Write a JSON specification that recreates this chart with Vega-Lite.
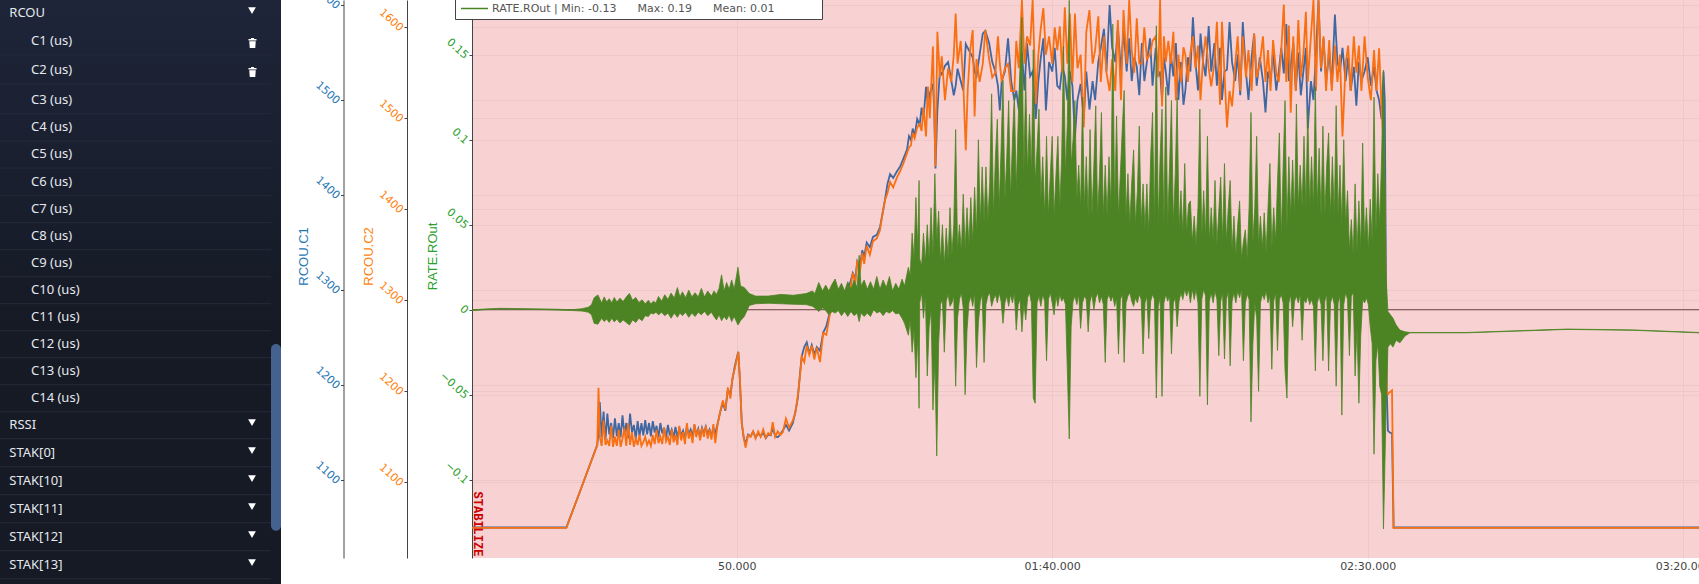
{"$schema":"https://vega.github.io/schema/vega-lite/v6.json","width":1227,"height":558,"autosize":{"type":"none","contains":"content"},"padding":{"left":472,"top":0,"right":0,"bottom":26},"background":"white","view":{"fill":"#f8d1d2","stroke":null},
"datasets":{
"menu":[{"row":0,"label":"RCOU","kind":"group"},{"row":1,"label":"C1 (us)","kind":"item","trash":1},{"row":2,"label":"C2 (us)","kind":"item","trash":1},{"row":3,"label":"C3 (us)","kind":"item"},{"row":4,"label":"C4 (us)","kind":"item"},{"row":5,"label":"C5 (us)","kind":"item"},{"row":6,"label":"C6 (us)","kind":"item"},{"row":7,"label":"C7 (us)","kind":"item"},{"row":8,"label":"C8 (us)","kind":"item"},{"row":9,"label":"C9 (us)","kind":"item"},{"row":10,"label":"C10 (us)","kind":"item"},{"row":11,"label":"C11 (us)","kind":"item"},{"row":12,"label":"C12 (us)","kind":"item"},{"row":13,"label":"C13 (us)","kind":"item"},{"row":14,"label":"C14 (us)","kind":"item"},{"row":15,"label":"RSSI","kind":"group"},{"row":16,"label":"STAK[0]","kind":"group"},{"row":17,"label":"STAK[10]","kind":"group"},{"row":18,"label":"STAK[11]","kind":"group"},{"row":19,"label":"STAK[12]","kind":"group"},{"row":20,"label":"STAK[13]","kind":"group"}],
"rcou":[{"t":8.05,"c1":1050,"c2":1050},{"t":23,"c1":1050,"c2":1050},{"t":25,"c1":1085,"c2":1087},{"t":27.9,"c1":1137,"c2":1141},{"t":28.1,"c1":1150,"c2":1204},{"t":28.3,"c1":1182,"c2":1150},{"t":28.6,"c1":1145,"c2":1140},{"t":28.9,"c1":1172,"c2":1168},{"t":29.2,"c1":1142,"c2":1141},{"t":29.5,"c1":1170,"c2":1146},{"t":29.8,"c1":1148,"c2":1140},{"t":30.1,"c1":1160,"c2":1162},{"t":30.4,"c1":1144,"c2":1139},{"t":30.7,"c1":1165,"c2":1150},{"t":31,"c1":1146,"c2":1140},{"t":31.3,"c1":1160,"c2":1158},{"t":31.6,"c1":1145,"c2":1139},{"t":31.9,"c1":1168,"c2":1148},{"t":32.2,"c1":1148,"c2":1160},{"t":32.5,"c1":1160,"c2":1140},{"t":32.8,"c1":1144,"c2":1165},{"t":33.1,"c1":1170,"c2":1141},{"t":33.4,"c1":1150,"c2":1155},{"t":33.7,"c1":1158,"c2":1139},{"t":34,"c1":1143,"c2":1148},{"t":34.3,"c1":1162,"c2":1141},{"t":34.6,"c1":1146,"c2":1152},{"t":34.9,"c1":1160,"c2":1140},{"t":35.2,"c1":1147,"c2":1144},{"t":35.5,"c1":1163,"c2":1150},{"t":35.8,"c1":1148,"c2":1141},{"t":36.1,"c1":1160,"c2":1146},{"t":36.4,"c1":1146,"c2":1140},{"t":36.7,"c1":1162,"c2":1152},{"t":37,"c1":1150,"c2":1142},{"t":37.3,"c1":1157,"c2":1158},{"t":37.6,"c1":1145,"c2":1143},{"t":37.9,"c1":1160,"c2":1150},{"t":38.2,"c1":1149,"c2":1142},{"t":38.5,"c1":1155,"c2":1160},{"t":38.8,"c1":1144,"c2":1145},{"t":39.1,"c1":1158,"c2":1150},{"t":39.4,"c1":1147,"c2":1141},{"t":39.7,"c1":1153,"c2":1158},{"t":40,"c1":1145,"c2":1144},{"t":40.3,"c1":1156,"c2":1152},{"t":40.6,"c1":1144,"c2":1141},{"t":40.9,"c1":1155,"c2":1162},{"t":41.2,"c1":1147,"c2":1146},{"t":41.5,"c1":1152,"c2":1155},{"t":41.8,"c1":1144,"c2":1142},{"t":42.1,"c1":1156,"c2":1165},{"t":42.4,"c1":1148,"c2":1148},{"t":42.7,"c1":1153,"c2":1156},{"t":43,"c1":1146,"c2":1143},{"t":43.3,"c1":1158,"c2":1164},{"t":43.6,"c1":1148,"c2":1150},{"t":43.9,"c1":1154,"c2":1159},{"t":44.2,"c1":1145,"c2":1146},{"t":44.5,"c1":1155,"c2":1160},{"t":44.8,"c1":1149,"c2":1150},{"t":45.1,"c1":1156,"c2":1162},{"t":45.4,"c1":1148,"c2":1148},{"t":45.7,"c1":1153,"c2":1158},{"t":46,"c1":1146,"c2":1147},{"t":46.3,"c1":1155,"c2":1164},{"t":46.6,"c1":1149,"c2":1143},{"t":47,"c1":1160,"c2":1165},{"t":47.4,"c1":1172,"c2":1178},{"t":47.8,"c1":1181,"c2":1190},{"t":48.2,"c1":1173,"c2":1180},{"t":48.6,"c1":1195,"c2":1204},{"t":49,"c1":1190,"c2":1192},{"t":49.3,"c1":1205,"c2":1214},{"t":49.7,"c1":1220,"c2":1225},{"t":50.25,"c1":1235,"c2":1243},{"t":50.5,"c1":1205,"c2":1215},{"t":50.8,"c1":1160,"c2":1165},{"t":51.1,"c1":1145,"c2":1150},{"t":51.4,"c1":1138,"c2":1138},{"t":51.8,"c1":1148,"c2":1152},{"t":52.2,"c1":1146,"c2":1150},{"t":52.6,"c1":1151,"c2":1156},{"t":53,"c1":1145,"c2":1148},{"t":53.4,"c1":1149,"c2":1156},{"t":53.8,"c1":1146,"c2":1150},{"t":54.2,"c1":1150,"c2":1158},{"t":54.6,"c1":1144,"c2":1149},{"t":55,"c1":1148,"c2":1154},{"t":55.4,"c1":1147,"c2":1152},{"t":55.7,"c1":1155,"c2":1166},{"t":56.1,"c1":1146,"c2":1150},{"t":56.5,"c1":1145,"c2":1156},{"t":56.9,"c1":1148,"c2":1152},{"t":57.3,"c1":1152,"c2":1155},{"t":57.8,"c1":1158,"c2":1170},{"t":58.3,"c1":1152,"c2":1160},{"t":58.9,"c1":1160,"c2":1168},{"t":59.3,"c1":1172,"c2":1176},{"t":59.7,"c1":1187,"c2":1196},{"t":60,"c1":1210,"c2":1215},{"t":60.3,"c1":1230,"c2":1238},{"t":60.7,"c1":1240,"c2":1232},{"t":61.1,"c1":1245,"c2":1250},{"t":61.5,"c1":1233,"c2":1240},{"t":61.9,"c1":1242,"c2":1250},{"t":62.3,"c1":1232,"c2":1235},{"t":62.7,"c1":1240,"c2":1248},{"t":63.2,"c1":1236,"c2":1232},{"t":63.7,"c1":1255,"c2":1264},{"t":64.2,"c1":1262,"c2":1262},{"t":64.8,"c1":1278,"c2":1286},{"t":65.6,"c1":1284,"c2":1293},{"t":66.2,"c1":1292,"c2":1300},{"t":66.7,"c1":1295,"c2":1306},{"t":67.5,"c1":1300,"c2":1304},{"t":68,"c1":1308,"c2":1312},{"t":68.4,"c1":1318,"c2":1330},{"t":68.8,"c1":1312,"c2":1318},{"t":69.1,"c1":1330,"c2":1344},{"t":69.5,"c1":1324,"c2":1330},{"t":69.9,"c1":1342,"c2":1352},{"t":70.2,"c1":1335,"c2":1340},{"t":70.6,"c1":1350,"c2":1360},{"t":71.1,"c1":1345,"c2":1350},{"t":71.6,"c1":1356,"c2":1365},{"t":72.2,"c1":1358,"c2":1368},{"t":72.7,"c1":1366,"c2":1377},{"t":73.1,"c1":1380,"c2":1395},{"t":73.5,"c1":1395,"c2":1410},{"t":73.9,"c1":1412,"c2":1418},{"t":74.3,"c1":1422,"c2":1430},{"t":74.8,"c1":1418,"c2":1424},{"t":75.4,"c1":1425,"c2":1435},{"t":75.9,"c1":1430,"c2":1442},{"t":76.4,"c1":1438,"c2":1450},{"t":77,"c1":1448,"c2":1462},{"t":77.3,"c1":1462,"c2":1468},{"t":77.6,"c1":1458,"c2":1470},{"t":77.9,"c1":1470,"c2":1484},{"t":78.2,"c1":1462,"c2":1478},{"t":78.6,"c1":1480,"c2":1490},{"t":79,"c1":1474,"c2":1494},{"t":79.3,"c1":1492,"c2":1486},{"t":79.6,"c1":1480,"c2":1512},{"t":80,"c1":1514,"c2":1480},{"t":80.3,"c1":1495,"c2":1535},{"t":80.6,"c1":1507,"c2":1500},{"t":81.1,"c1":1517,"c2":1579},{"t":81.3,"c1":1490,"c2":1510},{"t":81.5,"c1":1428,"c2":1447},{"t":81.8,"c1":1489,"c2":1595},{"t":82.2,"c1":1530,"c2":1545},{"t":82.5,"c1":1527,"c2":1568},{"t":83,"c1":1536,"c2":1520},{"t":83.5,"c1":1540,"c2":1555},{"t":84,"c1":1521,"c2":1540},{"t":84.4,"c1":1505,"c2":1570},{"t":84.7,"c1":1515,"c2":1615},{"t":85,"c1":1533,"c2":1560},{"t":85.5,"c1":1520,"c2":1585},{"t":85.9,"c1":1510,"c2":1540},{"t":86.3,"c1":1559,"c2":1465},{"t":86.6,"c1":1555,"c2":1530},{"t":87,"c1":1550,"c2":1575},{"t":87.4,"c1":1545,"c2":1597},{"t":87.7,"c1":1530,"c2":1502},{"t":88,"c1":1525,"c2":1565},{"t":88.5,"c1":1548,"c2":1540},{"t":89,"c1":1570,"c2":1560},{"t":89.4,"c1":1573,"c2":1597},{"t":90,"c1":1560,"c2":1565},{"t":90.5,"c1":1540,"c2":1545},{"t":91,"c1":1530,"c2":1550},{"t":91.4,"c1":1515,"c2":1590},{"t":91.7,"c1":1489,"c2":1560},{"t":92,"c1":1520,"c2":1540},{"t":92.5,"c1":1530,"c2":1555},{"t":93,"c1":1565,"c2":1560},{"t":93.5,"c1":1520,"c2":1530},{"t":94,"c1":1500,"c2":1530},{"t":94.3,"c1":1510,"c2":1585},{"t":94.7,"c1":1490,"c2":1555},{"t":95.2,"c1":1550,"c2":1630},{"t":95.6,"c1":1510,"c2":1560},{"t":96,"c1":1560,"c2":1590},{"t":96.5,"c1":1525,"c2":1580},{"t":96.9,"c1":1530,"c2":1630},{"t":97.4,"c1":1480,"c2":1516},{"t":97.8,"c1":1520,"c2":1570},{"t":98.2,"c1":1545,"c2":1600},{"t":98.6,"c1":1565,"c2":1621},{"t":99,"c1":1489,"c2":1570},{"t":99.5,"c1":1540,"c2":1590},{"t":100,"c1":1530,"c2":1560},{"t":100.4,"c1":1555,"c2":1600},{"t":100.8,"c1":1515,"c2":1575},{"t":101.2,"c1":1512,"c2":1601},{"t":101.6,"c1":1535,"c2":1550},{"t":102,"c1":1525,"c2":1622},{"t":102.4,"c1":1500,"c2":1560},{"t":102.8,"c1":1530,"c2":1615},{"t":103.2,"c1":1515,"c2":1540},{"t":103.6,"c1":1461,"c2":1615},{"t":104,"c1":1500,"c2":1555},{"t":104.5,"c1":1517,"c2":1570},{"t":105,"c1":1480,"c2":1490},{"t":105.4,"c1":1530,"c2":1595},{"t":105.9,"c1":1490,"c2":1619},{"t":106.4,"c1":1520,"c2":1560},{"t":106.8,"c1":1500,"c2":1575},{"t":107.3,"c1":1540,"c2":1612},{"t":107.7,"c1":1555,"c2":1540},{"t":108.2,"c1":1575,"c2":1590},{"t":108.6,"c1":1530,"c2":1550},{"t":109.1,"c1":1600,"c2":1530},{"t":109.5,"c1":1555,"c2":1565},{"t":110,"c1":1540,"c2":1530},{"t":110.4,"c1":1577,"c2":1608},{"t":110.9,"c1":1530,"c2":1520},{"t":111.3,"c1":1575,"c2":1619},{"t":111.8,"c1":1530,"c2":1560},{"t":112.2,"c1":1565,"c2":1630},{"t":112.6,"c1":1520,"c2":1575},{"t":113,"c1":1545,"c2":1550},{"t":113.4,"c1":1535,"c2":1610},{"t":113.8,"c1":1505,"c2":1560},{"t":114.2,"c1":1560,"c2":1560},{"t":114.6,"c1":1520,"c2":1600},{"t":115,"c1":1540,"c2":1565},{"t":115.5,"c1":1565,"c2":1570},{"t":115.9,"c1":1515,"c2":1585},{"t":116.4,"c1":1555,"c2":1590},{"t":116.8,"c1":1525,"c2":1545},{"t":117.1,"c1":1530,"c2":1630},{"t":117.4,"c1":1500,"c2":1513},{"t":117.7,"c1":1545,"c2":1590},{"t":118,"c1":1530,"c2":1562},{"t":118.4,"c1":1505,"c2":1585},{"t":118.8,"c1":1548,"c2":1560},{"t":119.2,"c1":1525,"c2":1595},{"t":119.6,"c1":1560,"c2":1520},{"t":120,"c1":1500,"c2":1570},{"t":120.4,"c1":1540,"c2":1540},{"t":120.8,"c1":1495,"c2":1578},{"t":121.1,"c1":1510,"c2":1570},{"t":121.5,"c1":1545,"c2":1540},{"t":121.9,"c1":1530,"c2":1572},{"t":122.3,"c1":1587,"c2":1590},{"t":122.7,"c1":1540,"c2":1555},{"t":123.1,"c1":1510,"c2":1580},{"t":123.5,"c1":1570,"c2":1520},{"t":123.9,"c1":1540,"c2":1565},{"t":124.3,"c1":1525,"c2":1590},{"t":124.8,"c1":1578,"c2":1555},{"t":125.2,"c1":1530,"c2":1535},{"t":125.7,"c1":1560,"c2":1560},{"t":126.1,"c1":1515,"c2":1606},{"t":126.6,"c1":1555,"c2":1515},{"t":126.9,"c1":1500,"c2":1606},{"t":127.3,"c1":1530,"c2":1550},{"t":127.7,"c1":1532,"c2":1490},{"t":128.1,"c1":1582,"c2":1530},{"t":128.5,"c1":1540,"c2":1513},{"t":129,"c1":1520,"c2":1560},{"t":129.4,"c1":1548,"c2":1590},{"t":129.8,"c1":1505,"c2":1530},{"t":130.2,"c1":1582,"c2":1590},{"t":130.7,"c1":1530,"c2":1545},{"t":131.1,"c1":1500,"c2":1575},{"t":131.6,"c1":1545,"c2":1530},{"t":132,"c1":1570,"c2":1593},{"t":132.4,"c1":1515,"c2":1545},{"t":132.9,"c1":1545,"c2":1560},{"t":133.4,"c1":1520,"c2":1590},{"t":133.8,"c1":1487,"c2":1540},{"t":134.2,"c1":1530,"c2":1575},{"t":134.6,"c1":1520,"c2":1530},{"t":135,"c1":1550,"c2":1586},{"t":135.5,"c1":1510,"c2":1550},{"t":135.9,"c1":1530,"c2":1540},{"t":136.3,"c1":1555,"c2":1575},{"t":136.7,"c1":1528,"c2":1625},{"t":137.1,"c1":1580,"c2":1540},{"t":137.5,"c1":1520,"c2":1602},{"t":137.8,"c1":1535,"c2":1506},{"t":138.2,"c1":1560,"c2":1590},{"t":138.6,"c1":1510,"c2":1530},{"t":139,"c1":1550,"c2":1608},{"t":139.4,"c1":1505,"c2":1545},{"t":139.8,"c1":1530,"c2":1570},{"t":140.2,"c1":1555,"c2":1617},{"t":140.5,"c1":1470,"c2":1540},{"t":141,"c1":1520,"c2":1590},{"t":141.4,"c1":1500,"c2":1630},{"t":141.8,"c1":1550,"c2":1530},{"t":142.2,"c1":1605,"c2":1630},{"t":142.6,"c1":1530,"c2":1555},{"t":143,"c1":1565,"c2":1590},{"t":143.4,"c1":1520,"c2":1530},{"t":143.9,"c1":1550,"c2":1586},{"t":144.3,"c1":1515,"c2":1530},{"t":144.8,"c1":1590,"c2":1580},{"t":145.2,"c1":1540,"c2":1540},{"t":145.6,"c1":1530,"c2":1570},{"t":146,"c1":1555,"c2":1480},{"t":146.5,"c1":1520,"c2":1560},{"t":146.9,"c1":1545,"c2":1580},{"t":147.3,"c1":1510,"c2":1530},{"t":147.8,"c1":1535,"c2":1590},{"t":148.2,"c1":1494,"c2":1550},{"t":148.6,"c1":1540,"c2":1580},{"t":149,"c1":1520,"c2":1530},{"t":149.5,"c1":1530,"c2":1590},{"t":150,"c1":1545,"c2":1545},{"t":150.5,"c1":1515,"c2":1520},{"t":151,"c1":1535,"c2":1575},{"t":151.4,"c1":1510,"c2":1530},{"t":151.8,"c1":1500,"c2":1577},{"t":152.2,"c1":1480,"c2":1510},{"t":152.5,"c1":1530,"c2":1473},{"t":152.7,"c1":1500,"c2":1400},{"t":153,"c1":1200,"c2":1198},{"t":153.2,"c1":1152,"c2":1197},{"t":153.5,"c1":1150,"c2":1199},{"t":153.85,"c1":1149,"c2":1201},{"t":154.1,"c1":1050,"c2":1050},{"t":202.5,"c1":1050,"c2":1050}],
"rate":[{"t":8.05,"lo":-0.0006,"hi":-0.0002},{"t":10,"lo":0,"hi":0.0004},{"t":12.5,"lo":0.0004,"hi":0.0008},{"t":20,"lo":0,"hi":0.0004},{"t":24,"lo":-0.0005,"hi":0},{"t":25.5,"lo":-0.0008,"hi":0.0006},{"t":26.5,"lo":-0.0015,"hi":0.0015},{"t":27,"lo":-0.003,"hi":0.003},{"t":27.4,"lo":-0.008,"hi":0.007},{"t":28,"lo":-0.0085,"hi":0.0087},{"t":28.6,"lo":-0.005,"hi":0.004},{"t":29,"lo":-0.007,"hi":0.0075},{"t":29.4,"lo":-0.0055,"hi":0.0045},{"t":29.8,"lo":-0.0075,"hi":0.0065},{"t":30.2,"lo":-0.005,"hi":0.004},{"t":30.6,"lo":-0.0072,"hi":0.0072},{"t":31,"lo":-0.0055,"hi":0.0045},{"t":31.5,"lo":-0.0078,"hi":0.0068},{"t":32,"lo":-0.006,"hi":0.0048},{"t":32.5,"lo":-0.0075,"hi":0.0075},{"t":33,"lo":-0.009,"hi":0.0096},{"t":33.5,"lo":-0.006,"hi":0.0055},{"t":34,"lo":-0.0075,"hi":0.0072},{"t":34.5,"lo":-0.005,"hi":0.0042},{"t":35,"lo":-0.0065,"hi":0.0058},{"t":35.5,"lo":-0.0035,"hi":0.0035},{"t":36,"lo":-0.004,"hi":0.0055},{"t":36.4,"lo":-0.002,"hi":0.0035},{"t":36.8,"lo":-0.0025,"hi":0.005},{"t":37.2,"lo":-0.0015,"hi":0.004},{"t":37.6,"lo":-0.003,"hi":0.0078},{"t":38.1,"lo":-0.0015,"hi":0.005},{"t":38.6,"lo":-0.0035,"hi":0.0088},{"t":39.1,"lo":-0.002,"hi":0.006},{"t":39.6,"lo":-0.005,"hi":0.0098},{"t":40.1,"lo":-0.002,"hi":0.0068},{"t":40.6,"lo":-0.0045,"hi":0.013},{"t":41,"lo":-0.002,"hi":0.0075},{"t":41.4,"lo":-0.0035,"hi":0.0105},{"t":41.9,"lo":-0.0015,"hi":0.007},{"t":42.4,"lo":-0.0045,"hi":0.0115},{"t":42.9,"lo":-0.002,"hi":0.0075},{"t":43.4,"lo":-0.004,"hi":0.01},{"t":43.9,"lo":-0.0015,"hi":0.0075},{"t":44.4,"lo":-0.003,"hi":0.0125},{"t":44.9,"lo":-0.001,"hi":0.0075},{"t":45.4,"lo":-0.0035,"hi":0.011},{"t":46,"lo":-0.0015,"hi":0.008},{"t":46.4,"lo":-0.004,"hi":0.011},{"t":46.8,"lo":-0.006,"hi":0.009},{"t":47.2,"lo":-0.003,"hi":0.0125},{"t":47.6,"lo":-0.0065,"hi":0.0205},{"t":48,"lo":-0.004,"hi":0.011},{"t":48.4,"lo":-0.006,"hi":0.016},{"t":48.8,"lo":-0.003,"hi":0.012},{"t":49.2,"lo":-0.007,"hi":0.0175},{"t":49.6,"lo":-0.004,"hi":0.012},{"t":50.2,"lo":-0.009,"hi":0.025},{"t":50.6,"lo":-0.0065,"hi":0.014},{"t":51.2,"lo":-0.004,"hi":0.013},{"t":52,"lo":0.0025,"hi":0.0095},{"t":53,"lo":0.0035,"hi":0.008},{"t":55,"lo":0.0038,"hi":0.008},{"t":57,"lo":0.0035,"hi":0.009},{"t":59,"lo":0.0032,"hi":0.0085},{"t":61,"lo":0.003,"hi":0.0095},{"t":62,"lo":0.002,"hi":0.011},{"t":62.4,"lo":0.001,"hi":0.0095},{"t":63,"lo":-0.001,"hi":0.016},{"t":63.6,"lo":0.001,"hi":0.011},{"t":64.1,"lo":-0.0005,"hi":0.0145},{"t":64.6,"lo":-0.003,"hi":0.011},{"t":65.1,"lo":-0.001,"hi":0.015},{"t":65.6,"lo":-0.002,"hi":0.018},{"t":66.1,"lo":-0.0005,"hi":0.012},{"t":66.6,"lo":-0.0035,"hi":0.0155},{"t":67.1,"lo":-0.001,"hi":0.011},{"t":67.6,"lo":-0.004,"hi":0.0165},{"t":68.1,"lo":-0.001,"hi":0.012},{"t":68.6,"lo":-0.0035,"hi":0.0175},{"t":69.1,"lo":-0.002,"hi":0.013},{"t":69.4,"lo":-0.007,"hi":0.032},{"t":69.7,"lo":-0.002,"hi":0.014},{"t":70.2,"lo":-0.004,"hi":0.0175},{"t":70.7,"lo":-0.002,"hi":0.012},{"t":71.2,"lo":-0.004,"hi":0.0165},{"t":71.7,"lo":0,"hi":0.012},{"t":72.2,"lo":-0.002,"hi":0.0195},{"t":72.7,"lo":-0.001,"hi":0.012},{"t":73.2,"lo":-0.0035,"hi":0.0175},{"t":73.7,"lo":-0.001,"hi":0.013},{"t":74.2,"lo":-0.002,"hi":0.0195},{"t":74.7,"lo":-0.0005,"hi":0.011},{"t":75.2,"lo":-0.0025,"hi":0.0155},{"t":75.7,"lo":-0.002,"hi":0.012},{"t":76.2,"lo":-0.005,"hi":0.018},{"t":76.6,"lo":-0.008,"hi":0.014},{"t":77.2,"lo":-0.015,"hi":0.025},{"t":77.5,"lo":-0.006,"hi":0.02},{"t":77.8,"lo":-0.025,"hi":0.045},{"t":78.1,"lo":-0.012,"hi":0.03},{"t":78.4,"lo":-0.04,"hi":0.066},{"t":78.7,"lo":-0.015,"hi":0.035},{"t":78.9,"lo":-0.058,"hi":0.076},{"t":79,"lo":0.004,"hi":0.03},{"t":79.3,"lo":0.01,"hi":0.026},{"t":79.6,"lo":-0.005,"hi":0.045},{"t":79.9,"lo":0.008,"hi":0.028},{"t":80.2,"lo":-0.039,"hi":0.05},{"t":80.5,"lo":-0.01,"hi":0.03},{"t":80.8,"lo":0,"hi":0.06},{"t":81.1,"lo":-0.059,"hi":0.032},{"t":81.4,"lo":-0.03,"hi":0.08},{"t":81.7,"lo":-0.086,"hi":0.04},{"t":82,"lo":-0.02,"hi":0.058},{"t":82.3,"lo":0.003,"hi":0.028},{"t":82.6,"lo":0.006,"hi":0.05},{"t":82.9,"lo":-0.025,"hi":0.026},{"t":83.2,"lo":0.005,"hi":0.048},{"t":83.5,"lo":0.009,"hi":0.03},{"t":83.8,"lo":0.002,"hi":0.06},{"t":84.1,"lo":0.004,"hi":0.032},{"t":84.4,"lo":0.008,"hi":0.05},{"t":84.7,"lo":-0.045,"hi":0.106},{"t":85,"lo":-0.005,"hi":0.035},{"t":85.3,"lo":0.006,"hi":0.05},{"t":85.6,"lo":0.01,"hi":0.034},{"t":85.9,"lo":0.001,"hi":0.068},{"t":86.2,"lo":-0.05,"hi":0.036},{"t":86.5,"lo":-0.012,"hi":0.06},{"t":86.8,"lo":0.004,"hi":0.038},{"t":87.1,"lo":0.008,"hi":0.066},{"t":87.4,"lo":0.002,"hi":0.04},{"t":87.7,"lo":0.01,"hi":0.072},{"t":88,"lo":-0.034,"hi":0.045},{"t":88.3,"lo":-0.008,"hi":0.1},{"t":88.6,"lo":0.005,"hi":0.05},{"t":88.9,"lo":0.009,"hi":0.084},{"t":89.2,"lo":-0.031,"hi":0.052},{"t":89.5,"lo":0.003,"hi":0.084},{"t":89.8,"lo":0.008,"hi":0.052},{"t":90.1,"lo":0.01,"hi":0.075},{"t":90.4,"lo":0.002,"hi":0.127},{"t":90.7,"lo":0.006,"hi":0.055},{"t":91,"lo":0.009,"hi":0.09},{"t":91.3,"lo":0.004,"hi":0.112},{"t":91.6,"lo":0.01,"hi":0.06},{"t":91.9,"lo":0.005,"hi":0.095},{"t":92.2,"lo":-0.008,"hi":0.135},{"t":92.5,"lo":0.004,"hi":0.065},{"t":92.8,"lo":0.008,"hi":0.09},{"t":93.1,"lo":0.002,"hi":0.123},{"t":93.4,"lo":0.009,"hi":0.065},{"t":93.7,"lo":0.004,"hi":0.1},{"t":94,"lo":0.01,"hi":0.127},{"t":94.3,"lo":-0.012,"hi":0.07},{"t":94.6,"lo":0.003,"hi":0.11},{"t":94.9,"lo":0.006,"hi":0.143},{"t":95.2,"lo":-0.013,"hi":0.172},{"t":95.5,"lo":0.004,"hi":0.08},{"t":95.8,"lo":-0.006,"hi":0.137},{"t":96.1,"lo":0.007,"hi":0.08},{"t":96.4,"lo":0.01,"hi":0.115},{"t":96.7,"lo":0.004,"hi":0.08},{"t":97,"lo":-0.052,"hi":0.153},{"t":97.3,"lo":-0.055,"hi":0.075},{"t":97.6,"lo":0.004,"hi":0.095},{"t":97.9,"lo":0.008,"hi":0.118},{"t":98.2,"lo":0.002,"hi":0.065},{"t":98.5,"lo":0.009,"hi":0.09},{"t":98.8,"lo":0.005,"hi":0.055},{"t":99.1,"lo":-0.03,"hi":0.102},{"t":99.4,"lo":0.006,"hi":0.055},{"t":99.7,"lo":0.01,"hi":0.08},{"t":100,"lo":0.004,"hi":0.102},{"t":100.3,"lo":-0.003,"hi":0.055},{"t":100.6,"lo":0.008,"hi":0.08},{"t":100.9,"lo":0.002,"hi":0.102},{"t":101.2,"lo":0.009,"hi":0.06},{"t":101.5,"lo":0.005,"hi":0.09},{"t":101.8,"lo":0.007,"hi":0.155},{"t":102.1,"lo":0.003,"hi":0.08},{"t":102.4,"lo":-0.036,"hi":0.11},{"t":102.7,"lo":-0.076,"hi":0.182},{"t":103,"lo":-0.01,"hi":0.085},{"t":103.3,"lo":0.005,"hi":0.1},{"t":103.6,"lo":0.008,"hi":0.123},{"t":103.9,"lo":0.003,"hi":0.065},{"t":104.2,"lo":0.009,"hi":0.085},{"t":104.5,"lo":-0.011,"hi":0.06},{"t":104.8,"lo":0.004,"hi":0.125},{"t":105.1,"lo":0.008,"hi":0.06},{"t":105.4,"lo":0.006,"hi":0.09},{"t":105.7,"lo":-0.013,"hi":0.055},{"t":106,"lo":0.005,"hi":0.106},{"t":106.3,"lo":0.009,"hi":0.055},{"t":106.6,"lo":0,"hi":0.085},{"t":106.9,"lo":0.007,"hi":0.12},{"t":107.2,"lo":0.01,"hi":0.055},{"t":107.5,"lo":0.004,"hi":0.08},{"t":107.8,"lo":0.008,"hi":0.116},{"t":108.1,"lo":0.003,"hi":0.055},{"t":108.4,"lo":-0.031,"hi":0.085},{"t":108.7,"lo":0.006,"hi":0.055},{"t":109,"lo":0.009,"hi":0.09},{"t":109.3,"lo":0.005,"hi":0.06},{"t":109.6,"lo":0.008,"hi":0.168},{"t":109.9,"lo":0.002,"hi":0.06},{"t":110.2,"lo":0.007,"hi":0.114},{"t":110.5,"lo":-0.026,"hi":0.055},{"t":110.8,"lo":0.006,"hi":0.08},{"t":111.1,"lo":0.009,"hi":0.106},{"t":111.4,"lo":-0.031,"hi":0.129},{"t":111.7,"lo":0.004,"hi":0.055},{"t":112,"lo":0.008,"hi":0.08},{"t":112.3,"lo":0.01,"hi":0.05},{"t":112.6,"lo":0.005,"hi":0.075},{"t":112.9,"lo":0.002,"hi":0.094},{"t":113.2,"lo":0.007,"hi":0.05},{"t":113.5,"lo":0.004,"hi":0.07},{"t":113.8,"lo":0.009,"hi":0.108},{"t":114.1,"lo":0.006,"hi":0.05},{"t":114.4,"lo":-0.026,"hi":0.074},{"t":114.7,"lo":0.004,"hi":0.048},{"t":115,"lo":0.008,"hi":0.074},{"t":115.3,"lo":-0.017,"hi":0.045},{"t":115.6,"lo":0.005,"hi":0.09},{"t":115.9,"lo":0.009,"hi":0.116},{"t":116.2,"lo":0.006,"hi":0.05},{"t":116.5,"lo":-0.052,"hi":0.167},{"t":116.8,"lo":0.002,"hi":0.05},{"t":117.1,"lo":0.007,"hi":0.09},{"t":117.4,"lo":-0.051,"hi":0.118},{"t":117.7,"lo":0.004,"hi":0.05},{"t":118,"lo":0.009,"hi":0.131},{"t":118.3,"lo":0.005,"hi":0.05},{"t":118.6,"lo":0.008,"hi":0.085},{"t":118.9,"lo":-0.026,"hi":0.123},{"t":119.2,"lo":0.004,"hi":0.05},{"t":119.5,"lo":0.007,"hi":0.08},{"t":119.8,"lo":-0.01,"hi":0.125},{"t":120.1,"lo":0.005,"hi":0.048},{"t":120.4,"lo":0.01,"hi":0.07},{"t":120.7,"lo":0.006,"hi":0.045},{"t":121,"lo":0.012,"hi":0.086},{"t":121.3,"lo":0.008,"hi":0.045},{"t":121.6,"lo":0.012,"hi":0.062},{"t":121.9,"lo":0.004,"hi":0.064},{"t":122.2,"lo":0.012,"hi":0.04},{"t":122.5,"lo":0.006,"hi":0.055},{"t":122.8,"lo":0.012,"hi":0.038},{"t":123.1,"lo":0.004,"hi":0.06},{"t":123.4,"lo":-0.051,"hi":0.118},{"t":123.7,"lo":0.006,"hi":0.042},{"t":124,"lo":0.012,"hi":0.07},{"t":124.3,"lo":0.008,"hi":0.042},{"t":124.6,"lo":-0.056,"hi":0.102},{"t":124.9,"lo":0.005,"hi":0.04},{"t":125.2,"lo":0.01,"hi":0.06},{"t":125.5,"lo":0.004,"hi":0.04},{"t":125.8,"lo":0.011,"hi":0.076},{"t":126.1,"lo":0.006,"hi":0.038},{"t":126.4,"lo":-0.027,"hi":0.058},{"t":126.7,"lo":0.005,"hi":0.078},{"t":127,"lo":0.01,"hi":0.04},{"t":127.3,"lo":-0.029,"hi":0.086},{"t":127.6,"lo":0.006,"hi":0.04},{"t":127.9,"lo":0.011,"hi":0.06},{"t":128.2,"lo":-0.033,"hi":0.076},{"t":128.5,"lo":0.005,"hi":0.035},{"t":128.8,"lo":0.01,"hi":0.055},{"t":129.1,"lo":0.004,"hi":0.032},{"t":129.4,"lo":0.011,"hi":0.05},{"t":129.7,"lo":0.007,"hi":0.064},{"t":130,"lo":0.012,"hi":0.03},{"t":130.3,"lo":-0.03,"hi":0.04},{"t":130.6,"lo":0.004,"hi":0.047},{"t":130.9,"lo":0.009,"hi":0.03},{"t":131.2,"lo":0.006,"hi":0.06},{"t":131.5,"lo":-0.066,"hi":0.116},{"t":131.8,"lo":-0.02,"hi":0.04},{"t":132.1,"lo":0.004,"hi":0.06},{"t":132.4,"lo":-0.005,"hi":0.102},{"t":132.7,"lo":-0.048,"hi":0.038},{"t":133,"lo":0.004,"hi":0.055},{"t":133.3,"lo":0.009,"hi":0.036},{"t":133.6,"lo":0.006,"hi":0.057},{"t":133.9,"lo":0.011,"hi":0.034},{"t":134.2,"lo":0.004,"hi":0.06},{"t":134.5,"lo":0.008,"hi":0.086},{"t":134.8,"lo":-0.035,"hi":0.036},{"t":135.1,"lo":0.005,"hi":0.06},{"t":135.4,"lo":0.01,"hi":0.04},{"t":135.7,"lo":-0.024,"hi":0.075},{"t":136,"lo":0.006,"hi":0.104},{"t":136.3,"lo":0.009,"hi":0.042},{"t":136.6,"lo":0.004,"hi":0.085},{"t":136.9,"lo":-0.036,"hi":0.123},{"t":137.2,"lo":-0.052,"hi":0.048},{"t":137.5,"lo":0.004,"hi":0.09},{"t":137.8,"lo":0.009,"hi":0.055},{"t":138.1,"lo":-0.01,"hi":0.088},{"t":138.4,"lo":0.005,"hi":0.055},{"t":138.7,"lo":0.008,"hi":0.121},{"t":139,"lo":0.004,"hi":0.06},{"t":139.3,"lo":0.009,"hi":0.085},{"t":139.6,"lo":-0.018,"hi":0.06},{"t":139.9,"lo":0.006,"hi":0.102},{"t":140.2,"lo":0.004,"hi":0.06},{"t":140.5,"lo":0.008,"hi":0.118},{"t":140.8,"lo":0.003,"hi":0.06},{"t":141.1,"lo":0.006,"hi":0.09},{"t":141.4,"lo":0.002,"hi":0.06},{"t":141.7,"lo":-0.036,"hi":0.131},{"t":142,"lo":0.004,"hi":0.06},{"t":142.3,"lo":0.008,"hi":0.095},{"t":142.6,"lo":0.003,"hi":0.055},{"t":142.9,"lo":-0.03,"hi":0.108},{"t":143.2,"lo":0.005,"hi":0.055},{"t":143.5,"lo":0.009,"hi":0.085},{"t":143.8,"lo":-0.036,"hi":0.104},{"t":144.1,"lo":0.004,"hi":0.055},{"t":144.4,"lo":0.008,"hi":0.09},{"t":144.7,"lo":0.003,"hi":0.055},{"t":145,"lo":-0.045,"hi":0.12},{"t":145.3,"lo":0.004,"hi":0.055},{"t":145.6,"lo":0.008,"hi":0.085},{"t":145.9,"lo":-0.062,"hi":0.05},{"t":146.2,"lo":0.003,"hi":0.1},{"t":146.5,"lo":0.01,"hi":0.05},{"t":146.8,"lo":0.006,"hi":0.07},{"t":147.1,"lo":-0.027,"hi":0.035},{"t":147.4,"lo":0.008,"hi":0.053},{"t":147.7,"lo":0.01,"hi":0.032},{"t":148,"lo":-0.039,"hi":0.074},{"t":148.3,"lo":-0.01,"hi":0.034},{"t":148.6,"lo":-0.055,"hi":0.064},{"t":148.9,"lo":-0.015,"hi":0.036},{"t":149.2,"lo":0.006,"hi":0.098},{"t":149.5,"lo":0.004,"hi":0.04},{"t":149.8,"lo":0.007,"hi":0.06},{"t":150.1,"lo":0.003,"hi":0.035},{"t":150.4,"lo":-0.01,"hi":0.065},{"t":150.7,"lo":-0.02,"hi":0.04},{"t":151,"lo":-0.085,"hi":0.125},{"t":151.3,"lo":-0.03,"hi":0.045},{"t":151.6,"lo":-0.02,"hi":0.08},{"t":151.9,"lo":-0.045,"hi":0.05},{"t":152.2,"lo":-0.05,"hi":0.09},{"t":152.5,"lo":-0.129,"hi":0.141},{"t":152.9,"lo":-0.06,"hi":0.02},{"t":153.2,"lo":-0.022,"hi":-0.001},{"t":153.6,"lo":-0.02,"hi":-0.003},{"t":154,"lo":-0.022,"hi":-0.005},{"t":154.5,"lo":-0.018,"hi":-0.009},{"t":155.1,"lo":-0.0195,"hi":-0.012},{"t":155.9,"lo":-0.0155,"hi":-0.013},{"t":156.7,"lo":-0.0136,"hi":-0.0134},{"t":165.7,"lo":-0.0136,"hi":-0.0134},{"t":181.6,"lo":-0.0116,"hi":-0.0114},{"t":192,"lo":-0.0121,"hi":-0.0119},{"t":202.5,"lo":-0.0136,"hi":-0.0134}]
},
"resolve":{"scale":{"x":"independent","y":"independent"},"axis":{"x":"independent","y":"independent"}},
"layer":[
{"layer":[
{"data":{"values":[{"panel":"sidebar"}]},"mark":{"type":"rect","fill":{"gradient":"linear","x1":0,"y1":0,"x2":0,"y2":1,"stops":[{"offset":0,"color":"#1e2539"},{"offset":0.55,"color":"#151a25"},{"offset":1,"color":"#151a25"}]}},"encoding":{"x":{"datum":0,"type":"quantitative","scale":{"domain":[0,281],"range":[-472,-191]},"axis":null},"x2":{"datum":281},"y":{"datum":-0.46,"type":"quantitative","scale":{"domain":[-0.46,0,1,2,3,4,5,6,7,8,9,10,11,12,13,14,15,16,17,18,19,20,20.7],"range":[0,12.7,41,70,99.7,127,154,181.7,208.7,235.7,262.7,289.7,316.7,343.7,370.7,397.7,424.7,452.7,480.7,508.7,536.7,564.7,584],"nice":false,"zero":false},"axis":null},"y2":{"datum":20.7}}},
{"data":{"name":"menu"},"transform":[{"filter":"datum.row>0"}],"mark":{"type":"rule","stroke":"#252b39","strokeWidth":1,"yOffset":14},"encoding":{"x":{"datum":0,"type":"quantitative","scale":{"domain":[0,281],"range":[-472,-191]},"axis":null},"x2":{"datum":271},"y":{"field":"row","type":"quantitative","axis":null}}},
{"data":{"values":[{"panel":"scrollbar"}]},"mark":{"type":"rect","fill":"#44618f","cornerRadius":5},"encoding":{"x":{"datum":271,"type":"quantitative","scale":{"domain":[0,281],"range":[-472,-191]},"axis":null},"x2":{"datum":281},"y":{"datum":12.01,"type":"quantitative","axis":null},"y2":{"datum":18.79}}},
{"data":{"name":"menu"},"transform":[{"filter":"datum.kind=='group'"}],"mark":{"type":"text","align":"left","baseline":"middle","font":"Noto Sans","fontSize":13,"fill":"#e6e8ee"},"encoding":{"x":{"datum":9.3,"type":"quantitative","scale":{"domain":[0,281],"range":[-472,-191]},"axis":null},"y":{"field":"row","type":"quantitative","axis":null},"text":{"field":"label"}}},
{"data":{"name":"menu"},"transform":[{"filter":"datum.kind=='item'"}],"mark":{"type":"text","align":"left","baseline":"middle","font":"Noto Sans","fontSize":13,"fill":"#e6e8ee"},"encoding":{"x":{"datum":31,"type":"quantitative","scale":{"domain":[0,281],"range":[-472,-191]},"axis":null},"y":{"field":"row","type":"quantitative","axis":null},"text":{"field":"label"}}},
{"data":{"name":"menu"},"transform":[{"filter":"datum.kind=='group'"}],"mark":{"type":"point","shape":"triangle-down","filled":true,"fill":"white","stroke":null,"opacity":1,"size":60,"yOffset":-2},"encoding":{"x":{"datum":252,"type":"quantitative","scale":{"domain":[0,281],"range":[-472,-191]},"axis":null},"y":{"field":"row","type":"quantitative","axis":null}}},
{"data":{"name":"menu"},"transform":[{"filter":"datum.trash==1"}],"mark":{"type":"point","shape":"M-0.8,-0.8H0.8V-0.5H-0.8ZM-0.3,-1H0.3V-0.8H-0.3ZM-0.65,-0.35H0.65L0.55,1H-0.55Z","filled":true,"fill":"white","stroke":null,"opacity":1,"size":100,"yOffset":2},"encoding":{"x":{"datum":252.5,"type":"quantitative","scale":{"domain":[0,281],"range":[-472,-191]},"axis":null},"y":{"field":"row","type":"quantitative","axis":null}}}
]},
{"resolve":{"scale":{"y":"independent"},"axis":{"x":"independent","y":"independent"}},"layer":[
{"data":{"name":"rcou"},"mark":{"type":"line","stroke":"#3f68a2","strokeWidth":1.8},"encoding":{"x":{"field":"t","type":"quantitative","scale":{"domain":[8.05,202.5],"nice":false,"zero":false},"axis":{"values":[50,100,150,200],"labelExpr":"datum.value==50?'50.000':datum.value==100?'01:40.000':datum.value==150?'02:30.000':'03:20.000'","title":null,"grid":true,"gridColor":"#eec7c8","gridWidth":1,"domain":false,"ticks":false,"labelFont":"DejaVu Sans","labelFontSize":11,"labelColor":"#444444","labelPadding":2,"labelFlush":false}},"y":{"field":"c1","type":"quantitative","scale":{"domain":[1017.9,1605.3],"nice":false,"zero":false},"axis":{"orient":"left","offset":128.5,"values":[1100,1200,1300,1400,1500,1600],"format":"d","title":"RCOU.C1","titleColor":"#1f77b4","titleFont":"Liberation Sans","titleFontSize":13,"titleFontWeight":"normal","titleX":-39.8,"titleY":256,"titleBaseline":"middle","labelColor":"#1f77b4","labelFont":"DejaVu Sans","labelFontSize":11,"labelAngle":42,"labelAlign":"right","labelBaseline":"middle","labelPadding":3,"labelOffset":2,"labelFlush":false,"labelOverlap":false,"tickSize":3,"tickColor":"#444444","domainColor":"#444444","grid":true,"gridColor":"#eec7c8"}}}},
{"data":{"name":"rcou"},"mark":{"type":"line","stroke":"#f87012","strokeWidth":1.8},"encoding":{"x":{"field":"t","type":"quantitative","scale":{"domain":[8.05,202.5],"nice":false,"zero":false},"axis":null},"y":{"field":"c2","type":"quantitative","scale":{"domain":[1016.8,1630],"nice":false,"zero":false},"axis":{"orient":"left","offset":65,"values":[1100,1200,1300,1400,1500,1600],"format":"d","title":"RCOU.C2","titleColor":"#ff7f0e","titleFont":"Liberation Sans","titleFontSize":13,"titleFontWeight":"normal","titleX":-39,"titleY":256,"titleBaseline":"middle","labelColor":"#ff7f0e","labelFont":"DejaVu Sans","labelFontSize":11,"labelAngle":42,"labelAlign":"right","labelBaseline":"middle","labelPadding":3,"labelOffset":2,"labelFlush":false,"labelOverlap":false,"tickSize":3,"tickColor":"#444444","domainColor":"#444444","grid":true,"gridColor":"#eec7c8"}}}},
{"data":{"values":[{"zero":0}]},"mark":{"type":"rule","stroke":"#704848","strokeWidth":1},"encoding":{"y":{"field":"zero","type":"quantitative","scale":{"domain":[-0.14606,0.18218],"nice":false,"zero":false},"axis":null}}},
{"data":{"name":"rate"},"mark":{"type":"area","fill":"#4c8424","fillOpacity":1,"strokeWidth":0.8,"interpolate":"linear"},"encoding":{"x":{"field":"t","type":"quantitative","scale":{"domain":[8.05,202.5],"nice":false,"zero":false},"axis":null},"y":{"field":"hi","type":"quantitative","scale":{"domain":[-0.14606,0.18218],"nice":false,"zero":false},"axis":{"orient":"left","values":[-0.1,-0.05,0,0.05,0.1,0.15],"format":"~g","title":"RATE.ROut","titleColor":"#2ca02c","titleFont":"Liberation Sans","titleFontSize":13,"titleFontWeight":"normal","titleX":-39.5,"titleY":256,"titleBaseline":"middle","labelColor":"#2ca02c","labelFont":"DejaVu Sans","labelFontSize":11,"labelAngle":42,"labelAlign":"right","labelBaseline":"middle","labelPadding":3,"labelOffset":2,"labelFlush":false,"labelOverlap":false,"tickSize":3,"tickColor":"#444444","domainColor":"#444444","grid":true,"gridColor":"#eec7c8"}},"y2":{"field":"lo"},"stroke":{"datum":"RATE.ROut | Min: -0.13\u00a0\u00a0\u00a0\u00a0\u00a0 Max: 0.19\u00a0\u00a0\u00a0\u00a0\u00a0 Mean: 0.01\u00a0\u00a0\u00a0\u00a0\u00a0\u00a0\u00a0\u00a0\u00a0\u00a0\u00a0\u00a0\u200b","type":"nominal","scale":{"range":["#4c8424"]},"legend":{"orient":"none","legendX":-17,"legendY":-11,"title":null,"padding":5,"symbolType":"stroke","symbolSize":729,"symbolStrokeColor":"#4caf50","symbolStrokeWidth":1.5,"labelOffset":3,"labelLimit":1000,"labelFont":"DejaVu Sans","labelFontSize":11,"labelColor":"#555555","fillColor":"white","strokeColor":"#444444"}}}},
{"data":{"values":[{"mode":"STABILIZE","start":8.95,"level":-0.107}]},"mark":{"type":"text","angle":90,"align":"left","baseline":"middle","font":"Liberation Mono","fontWeight":"bold","fontSize":12,"fill":"#cc0000"},"encoding":{"x":{"field":"start","type":"quantitative","scale":{"domain":[8.05,202.5],"nice":false,"zero":false},"axis":null},"y":{"field":"level","type":"quantitative","scale":{"domain":[-0.14606,0.18218],"nice":false,"zero":false},"axis":null},"text":{"field":"mode"}}}
]}
]}
